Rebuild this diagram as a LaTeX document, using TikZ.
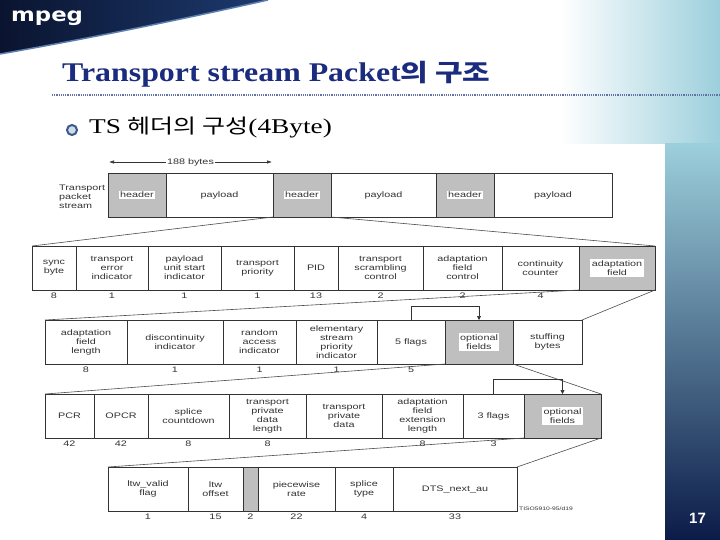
\documentclass[tikz,border=0pt]{standalone}
\usepackage{fontspec}
\setmainfont{Liberation Serif}
\newfontfamily\figfont[FakeStretch=1.35]{Liberation Sans}
\newfontfamily\titlefont[FakeStretch=1.3]{Liberation Serif}
\newfontfamily\headfont[FakeStretch=1.18]{Liberation Serif}
\newfontfamily\krfont[FakeStretch=1.25]{Noto Sans CJK KR}
\newfontfamily\logofont[FakeStretch=1.2]{DejaVu Sans}
\newfontfamily\pagefont{Liberation Sans}
\usetikzlibrary{arrows.meta, positioning}

\definecolor{titleblue}{HTML}{1B2C7E}
\definecolor{dotblue}{HTML}{6272A4}
\definecolor{bannerA}{HTML}{0A1430}
\definecolor{bannerB}{HTML}{1D3A6E}
\definecolor{bannerEdge}{HTML}{5D7FB0}
\definecolor{skyA}{HTML}{9CCFDC}
\definecolor{bandM}{HTML}{2E6CAA}
\definecolor{bandB}{HTML}{0B1B48}
\definecolor{ringblue}{HTML}{3B5A8A}
\definecolor{ringfill}{HTML}{D0DCEA}

\begin{document}
\begin{tikzpicture}[
    x=1pt, y=-1pt,
    font=\figfont\fontsize{8}{9}\selectfont,
    cell/.style={
        rectangle, draw=black!80, line width=0.7pt,
        anchor=north west, minimum height=44pt,
        inner sep=0pt, outer sep=0pt, align=center, text=black!80
    },
    field/.style={cell, fill=gray!50},
    tag/.style={fill=white, inner sep=1.5pt, align=center, text=black!80},
    bits/.style={inner sep=1pt, text=black!80},
    fan/.style={draw=black!70, line width=0.6pt},
    bracket/.style={draw=black!80, line width=0.7pt, -{Triangle[length=4pt, width=4pt]}},
    span/.style={draw=black!80, line width=0.6pt,
        {Latex[length=5pt, width=3.5pt]}-{Latex[length=5pt, width=3.5pt]}}
]
\useasboundingbox (0,0) rectangle (720,540);

% -------------------------
% slide background
% -------------------------
\fill[white] (0,0) rectangle (720,540);
\shade[left color=white, right color=skyA] (560,0) rectangle (720,144);
\shade[top color=skyA, middle color=bandM, bottom color=bandB] (665,144) rectangle (720,540);
\shade[left color=bannerA, right color=bannerB] (0,0) -- (268,0) .. controls (170,22) and (80,40) .. (0,54) -- cycle;
\draw[bannerEdge, line width=1.5pt] (268,0) .. controls (170,22) and (80,40) .. (0,54);
\draw[dotblue, line width=1.2pt, dash pattern=on 1.2pt off 1pt] (52,95) -- (720,95);

\node[anchor=base west, inner sep=0pt, text=white, font=\logofont\bfseries\fontsize{19}{19}\selectfont] (logo) at (11,22) {mpeg};
\node[anchor=base west, inner sep=0pt, text=titleblue, font=\headfont\bfseries\fontsize{27}{30}\selectfont] (title) at (62,82) {Transport stream Packet{\krfont\fontsize{24}{30}\selectfont 의 구조}};
\node[circle, draw=ringblue, line width=2pt, fill=ringfill, minimum size=10pt, inner sep=0pt] (bullet) at (72,130) {};
\node[anchor=base west, inner sep=0pt, text=black, font=\titlefont\fontsize{21}{24}\selectfont] (subtitle) at (89,134) {TS {\krfont\fontsize{20}{24}\selectfont 헤더의 구성}(4Byte)};
\node[anchor=base west, inner sep=0pt, text=white, font=\pagefont\bfseries\fontsize{15}{15}\selectfont] (pageno) at (689,523) {17};

% -------------------------
% 1. Transport packet stream
% -------------------------
\node[anchor=west, align=left, inner sep=0pt, text=black!80] (tpsLabel) at (59,197) {Transport\\packet\\stream};
\node[field, minimum width=58pt] (hdr1) at (108,173) {};
\node[tag] (hdr1Tag) at (hdr1) {header};
\node[cell, minimum width=107pt] (pay1) at (166,173) {payload};
\node[field, minimum width=58pt] (hdr2) at (273,173) {};
\node[tag] (hdr2Tag) at (hdr2) {header};
\node[cell, minimum width=105pt] (pay2) at (331,173) {payload};
\node[field, minimum width=58pt] (hdr3) at (436,173) {};
\node[tag] (hdr3Tag) at (hdr3) {header};
\node[cell, minimum width=118pt] (pay3) at (494,173) {payload};

\coordinate (spanL) at (109,162);
\coordinate (spanR) at (272,162);
\draw[span] (spanL) -- node[fill=white, inner sep=1pt, text=black!80] (spanTxt) {188 bytes} (spanR);

% -------------------------
% 2. Header fields
% -------------------------
\node[cell, minimum width=44pt] (sync) at (32,246) {sync\\byte};
\node[cell, minimum width=72pt] (tei) at (76,246) {transport\\error\\indicator};
\node[cell, minimum width=73pt] (pusi) at (148,246) {payload\\unit start\\indicator};
\node[cell, minimum width=73pt] (tpri) at (221,246) {transport\\priority};
\node[cell, minimum width=44pt] (pid) at (294,246) {PID};
\node[cell, minimum width=85pt] (tsc) at (338,246) {transport\\scrambling\\control};
\node[cell, minimum width=79pt] (afc) at (423,246) {adaptation\\field\\control};
\node[cell, minimum width=77pt] (cc) at (502,246) {continuity\\counter};
\node[field, minimum width=76pt] (af) at (579,246) {};
\node[tag] (afTag) at (af) {adaptation\\field};

\node[bits, below=1.5pt of sync] (n-sync) {8};
\node[bits, below=1.5pt of tei] (n-tei) {1};
\node[bits, below=1.5pt of pusi] (n-pusi) {1};
\node[bits, below=1.5pt of tpri] (n-tpri) {1};
\node[bits, below=1.5pt of pid] (n-pid) {13};
\node[bits, below=1.5pt of tsc] (n-tsc) {2};
\node[bits, below=1.5pt of afc] (n-afc) {2};
\node[bits, below=1.5pt of cc] (n-cc) {4};

\draw[fan] (hdr2.south west) -- (sync.north west);
\draw[fan] (hdr2.south east) -- (af.north east);

% -------------------------
% 3. Adaptation field
% -------------------------
\node[cell, minimum width=82pt] (afl) at (45,320) {adaptation\\field\\length};
\node[cell, minimum width=96pt] (di) at (127,320) {discontinuity\\indicator};
\node[cell, minimum width=73pt] (rai) at (223,320) {random\\access\\indicator};
\node[cell, minimum width=81pt] (espi) at (296,320) {elementary\\stream\\priority\\indicator};
\node[cell, minimum width=68pt] (flags5) at (377,320) {5 flags};
\node[field, minimum width=68pt] (opt1) at (445,320) {};
\node[tag] (opt1Tag) at (opt1) {optional\\fields};
\node[cell, minimum width=69pt] (stuff) at (513,320) {stuffing\\bytes};

\node[bits, below=1.5pt of afl] (n-afl) {8};
\node[bits, below=1.5pt of di] (n-di) {1};
\node[bits, below=1.5pt of rai] (n-rai) {1};
\node[bits, below=1.5pt of espi] (n-espi) {1};
\node[bits, below=1.5pt of flags5] (n-flags5) {5};

\draw[fan] (af.south west) -- (afl.north west);
\draw[fan] (af.south east) -- (stuff.north east);
\draw[bracket] (flags5.north) -- ++(0,-14) -| (opt1.north);

% -------------------------
% 4. Optional fields
% -------------------------
\node[cell, minimum width=49pt] (pcr) at (45,394) {PCR};
\node[cell, minimum width=54pt] (opcr) at (94,394) {OPCR};
\node[cell, minimum width=81pt] (splice) at (148,394) {splice\\countdown};
\node[cell, minimum width=77pt] (tpdl) at (229,394) {transport\\private\\data\\length};
\node[cell, minimum width=76pt] (tpd) at (306,394) {transport\\private\\data};
\node[cell, minimum width=81pt] (afel) at (382,394) {adaptation\\field\\extension\\length};
\node[cell, minimum width=61pt] (flags3) at (463,394) {3 flags};
\node[field, minimum width=77pt] (opt2) at (524,394) {};
\node[tag] (opt2Tag) at (opt2) {optional\\fields};

\node[bits, below=1.5pt of pcr] (n-pcr) {42};
\node[bits, below=1.5pt of opcr] (n-opcr) {42};
\node[bits, below=1.5pt of splice] (n-splice) {8};
\node[bits, below=1.5pt of tpdl] (n-tpdl) {8};
\node[bits, below=1.5pt of afel] (n-afel) {8};
\node[bits, below=1.5pt of flags3] (n-flags3) {3};

\draw[fan] (opt1.south west) -- (pcr.north west);
\draw[fan] (opt1.south east) -- (opt2.north east);
\draw[bracket] (flags3.north) -- ++(0,-15) -| (opt2.north);

% -------------------------
% 5. Extension fields
% -------------------------
\node[cell, minimum width=80pt] (ltwv) at (108,467) {ltw\_valid\\flag};
\node[cell, minimum width=55pt] (ltwo) at (188,467) {ltw\\offset};
\node[field, minimum width=15pt] (rsv) at (243,467) {};
\node[cell, minimum width=77pt] (pw) at (258,467) {piecewise\\rate};
\node[cell, minimum width=58pt] (stype) at (335,467) {splice\\type};
\node[cell, minimum width=124pt] (dts) at (393,467) {DTS\_next\_au};

\node[bits, below=1.5pt of ltwv] (n-ltwv) {1};
\node[bits, below=1.5pt of ltwo] (n-ltwo) {15};
\node[bits, below=1.5pt of rsv] (n-rsv) {2};
\node[bits, below=1.5pt of pw] (n-pw) {22};
\node[bits, below=1.5pt of stype] (n-stype) {4};
\node[bits, below=1.5pt of dts] (n-dts) {33};

\draw[fan] (opt2.south west) -- (ltwv.north west);
\draw[fan] (opt2.south east) -- (dts.north east);

\node[anchor=west, inner sep=0pt, text=black!80, font=\figfont\fontsize{5}{5}\selectfont] (figId) at (519,509) {TISO5910-95/d19};

\end{tikzpicture}
\end{document}
